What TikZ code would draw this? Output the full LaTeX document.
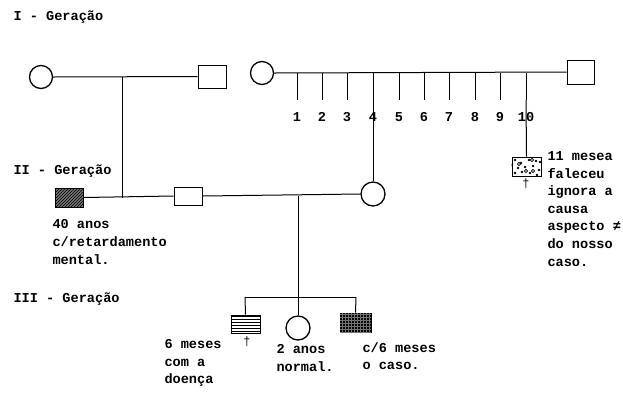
\documentclass[tikz,border=0pt]{standalone}
\usepackage{fontspec}
\setmonofont{Liberation Mono}
\usetikzlibrary{patterns}
\begin{document}
\begin{tikzpicture}[x=1pt,y=-1pt,
  line width=1pt,
  female/.style={draw,circle,minimum size=23pt,inner sep=0pt,line width=1.3pt},
  male/.style={draw,rectangle,inner sep=0pt,line width=1pt},
  lbl/.style={font=\ttfamily\bfseries\fontsize{13.6}{17.6}\selectfont,anchor=west,inner sep=0pt,align=left},
  num/.style={font=\ttfamily\bfseries\fontsize{13.6}{14}\selectfont,inner sep=0pt},
  dag/.style={font=\ttfamily\fontsize{12}{12}\selectfont,inner sep=0pt}]
\useasboundingbox (0,0) rectangle (623,392);

% generation headings
\node[lbl] (g1) at (13,17) {I - Geração};
\node[lbl] (g2) at (13,171) {II - Geração};
\node[lbl] (g3) at (13,299) {III - Geração};

% generation I, left couple
\node[female] (f1) at (41,77) {};
\node[male,minimum width=28pt,minimum height=23pt] (m1) at (212,76.5) {};
\draw (f1.east) -- (m1.west);
\coordinate (d1) at (122,77);

% generation I, right couple with ten children
\node[female] (f2) at (262,73) {};
\node[male,minimum width=27pt,minimum height=24pt] (m2) at (580.5,72) {};
\draw (f2.east) -- (m2.west);
\foreach \x [count=\i] in {297,322,347,373,399,424,449,475,500,526}{
  \coordinate (t\i) at (\x,73);
  \coordinate (b\i) at (\x,100);
  \draw (t\i) -- (b\i);
  \node[num] (n\i) at (\x,117) {\i};
}

% generation II
\node[male,minimum width=28pt,minimum height=19pt,
      fill=black!55,postaction={pattern=north east lines,pattern color=black}] (h) at (69,197.5) {};
\node[male,minimum width=28pt,minimum height=18pt] (m3) at (188,196) {};
\node[female,minimum size=24pt] (f3) at (373,194) {};
\node[male,minimum width=29pt,minimum height=19pt] (dot) at (526.5,166.5) {};
\draw (d1) -- (d1 |- h.east);
\draw (h.east) -- (m3.west);
\draw (m3.east) -- (f3.west);
\draw (b4) -- (f3.north);
\draw (b10) -- (dot.north);
% speckled fill of the deceased brother
\begin{scope}
  \clip (dot.south west) rectangle (dot.north east);
  \foreach \px/\py in {515/160,521/163,529/160,536/161,518/168,525/167,533/166,539/170,515/173,522/172,530/173,537/175,512/165,540/162}
    \fill (\px,\py) circle (1.3pt);
  \foreach \px/\py in {526/171,533/171,519/164,532/160}
    \draw[line width=0.6pt] (\px,\py) circle (1.6pt);
\end{scope}
\node[dag] (dg1) at (526,184) {†};

\node[lbl] (t40) at (52,242) {40 anos\\c/retardamento\\mental.};
\node[lbl,anchor=north west] (t11) at (547,151) {11 mesea\\faleceu\\ignora a\\causa\\aspecto ≠\\do nosso\\caso.};

% generation III
\coordinate (d2) at (298,196);
\coordinate (s1) at (245,297);
\coordinate (s3) at (356,297);
\node[male,minimum width=29pt,minimum height=18pt,
      postaction={pattern=horizontal lines,pattern color=black}] (c1) at (245.5,324) {};
\node[female,minimum size=24pt] (c2) at (298,328) {};
\node[male,minimum width=31pt,minimum height=19pt,
      fill=black,postaction={pattern=grid,pattern color=black!55}] (c3) at (355.5,322.5) {};
\draw (d2) -- (d2 |- s1);
\draw (s1) -- (s3);
\draw (s1) -- (c1.north);
\draw (d2 |- s1) -- (c2.north);
\draw (s3) -- (c3.north);
\node[dag] (dg2) at (247,342) {†};

\node[lbl,anchor=north west] (tc1) at (164,339) {6 meses\\com a\\doença};
\node[lbl,anchor=north west] (tc2) at (276,344) {2 anos\\normal.};
\node[lbl,anchor=north west] (tc3) at (362,342) {c/6 meses\\o caso.};
\end{tikzpicture}
\end{document}
